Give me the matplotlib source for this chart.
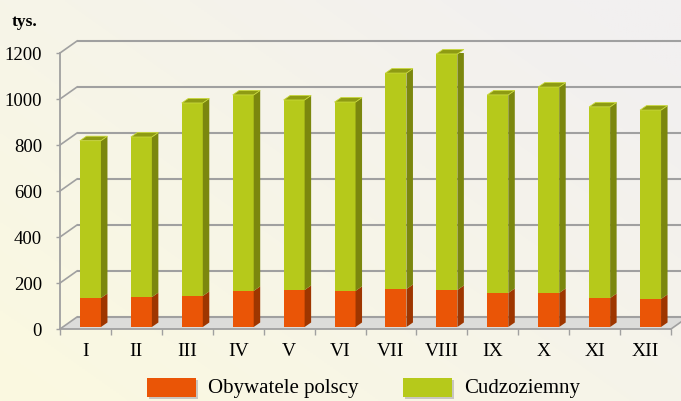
import matplotlib
matplotlib.use("Agg")
import matplotlib.pyplot as plt
from matplotlib.patches import Polygon, Rectangle
import numpy as np

# ---- data ----
months = ["I", "II", "III", "IV", "V", "VI", "VII", "VIII", "IX", "X", "XI", "XII"]
polish = [126, 130, 135, 157, 161, 157, 165, 161, 148, 148, 126, 122]
foreign = [684, 696, 839, 852, 826, 821, 939, 1026, 861, 895, 831, 821]
series_names = ["Obywatele polscy", "Cudzoziemny"]
yticks = [0, 200, 400, 600, 800, 1000, 1200]
unit_label = "tys."

# ---- style ----
plt.rcParams['font.family'] = ['Liberation Serif', 'DejaVu Serif']
W, H = 681, 401
fig = plt.figure(figsize=(W / 100, H / 100), dpi=100)

# background gradient
bg = fig.add_axes([0, 0, 1, 1], zorder=-10)
gx, gy = np.meshgrid(np.linspace(0, 1, 200), np.linspace(0, 1, 200))
t = np.clip(0.6 * gx + 0.5 * (gy), 0, 1)
c0 = np.array([251, 249, 224]) / 255
c1 = np.array([242, 240, 240]) / 255
img = c0[None, None, :] * (1 - t[..., None]) + c1[None, None, :] * t[..., None]
img = img[::-1]
bg.imshow(img, origin='upper', aspect='auto', extent=[0, 1, 0, 1])
bg.axis('off')

# main axes = front plane
x0, x1 = 60, 671
y0, y1 = 329, 53
ax = fig.add_axes([x0 / W, (H - y0) / H, (x1 - x0) / W, (y0 - y1) / H])
n = len(months)
ax.set_xlim(0, n)
ax.set_ylim(0, 1200)
ax.patch.set_visible(False)
for s in ax.spines.values():
    s.set_visible(False)

ppx = (x1 - x0) / n
ppy = (y0 - y1) / 1200.0
def dx(p):
    return p / ppx
def dy(p):
    return p / ppy

grid_c = '#a0a0a0'
DXb, DYb = dx(17), dy(12)

# floor
floor = Polygon([(0, 0), (n, 0), (n + DXb, DYb), (DXb, DYb)], closed=True,
                facecolor='#dcdcda', edgecolor='none', zorder=1, clip_on=False)
ax.add_patch(floor)
ax.plot([0, n], [0, 0], color=grid_c, lw=1.3, zorder=2, clip_on=False)
ax.plot([n, n + DXb], [0, DYb], color=grid_c, lw=1.2, zorder=2, clip_on=False)

# back wall gridlines + left wall diagonals
for v in yticks:
    ax.plot([DXb, n + DXb + 1], [v + DYb, v + DYb], color=grid_c, lw=1.5,
            zorder=1, clip_on=False, solid_capstyle='butt')
    ax.plot([0, DXb], [v, v + DYb], color=grid_c, lw=1.2, zorder=1, clip_on=False)
ax.plot([0, 0], [0, 1200], color=grid_c, lw=1.3, zorder=2, clip_on=False)

# bars
centers = np.arange(n) + 0.5
ox, oy = dx(5), dy(2)
bw = dx(21)
sdx, sdy = dx(6.5), dy(4.5)
pol = np.array(polish, dtype=float)
forg = np.array(foreign, dtype=float)
tot = pol + forg

orange, orange_side = '#ea5506', '#9e3600'
green, green_side, green_top = '#b6c91b', '#7b870e', '#8e9b13'

ax.bar(centers + ox, pol, width=bw, bottom=oy, color=orange, zorder=5, linewidth=0)
ax.bar(centers + ox, forg, width=bw, bottom=oy + pol, color=green, zorder=5, linewidth=0)
for i in range(n):
    xr = centers[i] + ox + bw / 2
    xl = centers[i] + ox - bw / 2
    b = oy
    m = oy + pol[i]
    tp = oy + tot[i]
    ax.add_patch(Polygon([(xr, b), (xr + sdx, b + sdy), (xr + sdx, m + sdy), (xr, m)],
                         closed=True, facecolor=orange_side, edgecolor='none', zorder=5))
    ax.add_patch(Polygon([(xr, m), (xr + sdx, m + sdy), (xr + sdx, tp + sdy), (xr, tp)],
                         closed=True, facecolor=green_side, edgecolor='none', zorder=5))
    ax.add_patch(Polygon([(xl, tp), (xr, tp), (xr + sdx, tp + sdy), (xl + sdx, tp + sdy)],
                         closed=True, facecolor=green_top, edgecolor='#c9d93a', lw=0.6,
                         zorder=6, clip_on=False))

# ticks
ax.set_xticks(centers)
ax.set_xticklabels(months, fontsize=14)
ax.set_xticks(np.arange(n + 1), minor=True)
ax.tick_params(axis='x', which='major', length=0, pad=10)
ax.tick_params(axis='x', which='minor', length=4, width=1, color=grid_c, direction='out')
ax.set_yticks(yticks)
ax.set_yticklabels([str(v) for v in yticks], fontsize=13.5)
ax.tick_params(axis='y', length=3, width=1, color=grid_c, pad=10)

fig.text(12 / W, 1 - 22 / H, unit_label, fontsize=12.5, fontweight='bold', va='center', ha='left')

# legend
leg_items = [(147, orange, series_names[0]), (403, green, series_names[1])]
for xp, col, lab in leg_items:
    fig.add_artist(Rectangle(((xp + 2) / W, (H - 399) / H), 49 / W, 19 / H,
                             transform=fig.transFigure, facecolor='#c8c6c0', edgecolor='none'))
    fig.add_artist(Rectangle((xp / W, (H - 397) / H), 49 / W, 19 / H,
                             transform=fig.transFigure, facecolor=col, edgecolor='none'))
    fig.text((xp + 61) / W, 1 - 389 / H, lab, fontsize=15, va='center', ha='left')

fig.savefig('out.png', dpi=100)
